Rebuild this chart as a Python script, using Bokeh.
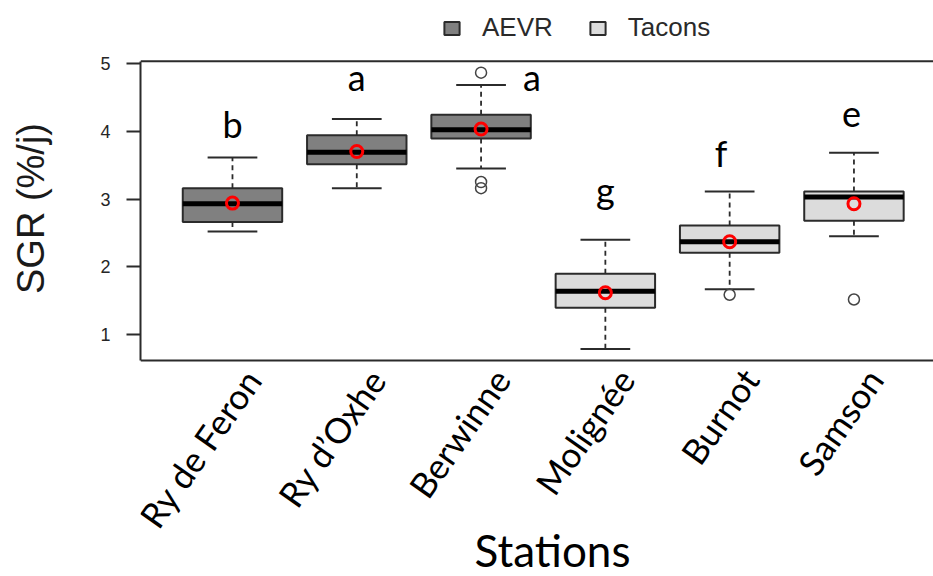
import math
from bokeh.plotting import figure
from bokeh.layouts import row
from bokeh.models import (Range1d, FixedTicker, Label, Legend, LegendItem,
                          ColumnDataSource, Span)
from bokeh.core.properties import value
from bokeh.embed import file_html
from bokeh.resources import INLINE

# ---- data ----
stations = ["Ry de Feron", "Ry d\u2019Oxhe", "Berwinne", "Molign\u00e9e", "Burnot", "Samson"]
groups = ["AEVR", "AEVR", "AEVR", "Tacons", "Tacons", "Tacons"]
positions = [1, 2, 3, 4, 5, 6]
lower_whisker = [2.52, 3.16, 3.45, 0.79, 1.67, 2.45]
q1 = [2.66, 3.51, 3.89, 1.40, 2.21, 2.68]
median = [2.93, 3.69, 4.02, 1.64, 2.37, 3.03]
q3 = [3.16, 3.94, 4.24, 1.90, 2.61, 3.11]
upper_whisker = [3.61, 4.18, 4.68, 2.40, 3.11, 3.68]
means = [2.94, 3.70, 4.03, 1.62, 2.37, 2.93]
outlier_pos = [3, 3, 3, 5, 6]
outlier_val = [4.86, 3.25, 3.16, 1.59, 1.52]
letters = ["b", "a", "a", "g", "f", "e"]
letter_x = [1.0, 2.0, 3.41, 4.0, 4.93, 5.98]
letter_y = [3.895, 4.588, 4.588, 2.929, 3.468, 4.049]
y_ticks = [1, 2, 3, 4, 5]
y_title = "SGR (%/j)"
x_title = "Stations"

# plotting-box limits (R style, 4% extension) and style
BOX_LO, BOX_HI = 0.621, 5.029
fill_colors = {"AEVR": "#808080", "Tacons": "#dcdcdc"}
BOX_W = 0.8
CAP_HALF = 0.2
LINE_C = "#2b2b2b"

# ---- narrow figure carrying the y title ----
ylab = figure(width=70, height=576, output_backend="svg", toolbar_location=None,
              x_range=Range1d(0, 1), y_range=Range1d(0, 1),
              x_axis_location=None, y_axis_location=None, min_border=0)
ylab.outline_line_color = None
ylab.grid.visible = False
ylab.add_layout(Label(x=30, y=368, x_units="screen", y_units="screen", text=y_title,
                      angle=math.pi / 2, text_align="center", text_baseline="middle",
                      text_font="Liberation Sans", text_font_size="38px",
                      text_color="#1a1a1a"))

# ---- main figure: frame covers the full height; R box drawn with spans/axis bounds ----
p = figure(width=863, height=576, output_backend="svg", toolbar_location=None,
           x_range=Range1d(0.26, 6.64), y_range=Range1d(-2.5596, 5.9234),
           x_axis_location=None, min_border=0, min_border_left=70)
p.outline_line_color = None
p.grid.visible = False
p.background_fill_color = "white"
p.border_fill_color = "white"

# left axis
p.yaxis.bounds = (BOX_LO, BOX_HI)
p.yaxis.ticker = FixedTicker(ticks=y_ticks)
p.yaxis.major_tick_out = 14
p.yaxis.major_tick_in = 0
p.yaxis.minor_tick_line_color = None
p.yaxis.axis_line_color = LINE_C
p.yaxis.axis_line_width = 2
p.yaxis.major_tick_line_color = LINE_C
p.yaxis.major_tick_line_width = 2
p.yaxis.major_label_text_font = "Liberation Sans"
p.yaxis.major_label_text_font_size = "18px"
p.yaxis.major_label_text_color = "#262626"
p.yaxis.major_label_standoff = 16

# top and bottom lines of the box
for yv in (BOX_LO, BOX_HI):
    p.add_layout(Span(location=yv, dimension="width", line_color=LINE_C, line_width=2))

# whiskers (dashed)
p.segment(x0=positions, y0=q3, x1=positions, y1=upper_whisker,
          line_color=LINE_C, line_width=1.8, line_dash="5 4")
p.segment(x0=positions, y0=q1, x1=positions, y1=lower_whisker,
          line_color=LINE_C, line_width=1.8, line_dash="5 4")
# caps
p.segment(x0=[x - CAP_HALF for x in positions], y0=upper_whisker,
          x1=[x + CAP_HALF for x in positions], y1=upper_whisker,
          line_color=LINE_C, line_width=2)
p.segment(x0=[x - CAP_HALF for x in positions], y0=lower_whisker,
          x1=[x + CAP_HALF for x in positions], y1=lower_whisker,
          line_color=LINE_C, line_width=2)

# boxes per group
renderers = {}
for g in ["AEVR", "Tacons"]:
    idx = [i for i, gg in enumerate(groups) if gg == g]
    src = ColumnDataSource(dict(x=[positions[i] for i in idx],
                                bottom=[q1[i] for i in idx],
                                top=[q3[i] for i in idx]))
    renderers[g] = p.vbar(x="x", bottom="bottom", top="top", width=BOX_W, source=src,
                          fill_color=fill_colors[g], line_color=LINE_C, line_width=2)

# medians
p.segment(x0=[x - BOX_W / 2 for x in positions], y0=median,
          x1=[x + BOX_W / 2 for x in positions], y1=median,
          line_color="black", line_width=5)

# outliers
p.scatter(x=outlier_pos, y=outlier_val, marker="circle", size=11,
          fill_color=None, line_color="#444444", line_width=1.5)

# means
p.scatter(x=positions, y=means, marker="circle", size=12,
          fill_color=None, line_color="red", line_width=3)

# significance letters
p.text(x=letter_x, y=letter_y, text=letters, text_font=value("Lato"),
       text_font_size="36px", text_align="center", text_baseline="alphabetic",
       y_offset=-14, text_color="black")

# station labels (rotated), just below the box
p.text(x=positions, y=[BOX_LO] * len(positions), text=stations,
       x_offset=20, y_offset=12, angle=math.radians(55),
       text_align="right", text_baseline="middle",
       text_font=value("Lato"), text_font_size="35px", text_color="black")

# x title
p.add_layout(Label(x=412, y=27, x_units="screen", y_units="screen", text=x_title,
                   text_align="center", text_baseline="middle",
                   text_font="Lato", text_font_size="44px", text_color="black"))

# legend
legend = Legend(items=[LegendItem(label=g, renderers=[renderers[g]]) for g in ["AEVR", "Tacons"]],
                orientation="horizontal", location=(302, 533),
                glyph_width=19, glyph_height=16, label_standoff=21, spacing=35,
                padding=0, margin=0, border_line_color=None, background_fill_color=None,
                label_text_font="Liberation Sans", label_text_font_size="26px",
                label_text_color="#2a2a2a")
p.add_layout(legend)

layout = row(ylab, p)
open("out.html", "w").write(file_html(layout, INLINE))
